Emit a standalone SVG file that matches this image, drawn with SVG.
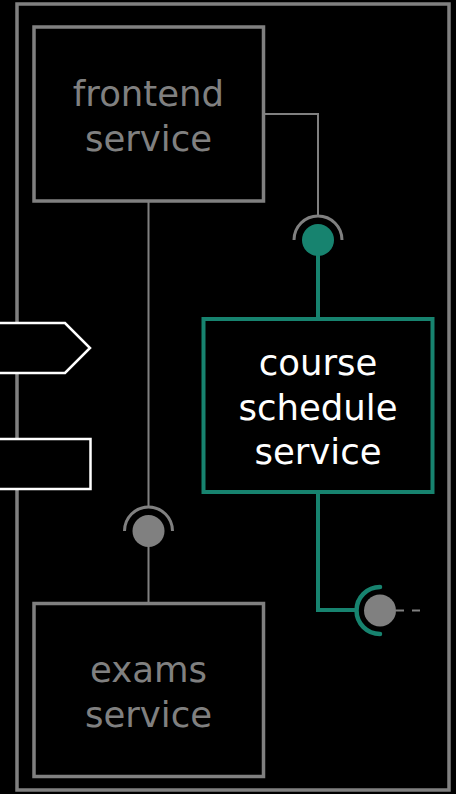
<svg xmlns="http://www.w3.org/2000/svg" width="456" height="794" viewBox="0 0 456 794">
  <style>
    .frame { fill: none; stroke: #808080; stroke-width: 3.5; }
    .box { fill: #000; stroke: #808080; stroke-width: 3.5; }
    .box-active { fill: #000; stroke: #17836f; stroke-width: 4; }
    .ext { fill: #000; stroke: #fff; stroke-width: 2.5; }
    .lbl { font-family: "DejaVu Sans", Verdana, sans-serif; font-size: 35.5px; text-anchor: middle; }
    .lbl-dim { fill: #808080; }
    .lbl-on { fill: #fff; }
    .wire { fill: none; stroke: #808080; stroke-width: 2; }
    .wire-on { fill: none; stroke: #17836f; stroke-width: 4; }
    .socket { fill: none; stroke: #808080; stroke-width: 3; }
    .socket-on { fill: none; stroke: #17836f; stroke-width: 4.5; stroke-linecap: round; }
    .ball { fill: #808080; }
    .ball-on { fill: #17836f; }
    .dash { fill: none; stroke: #808080; stroke-width: 2; stroke-dasharray: 8 8; }
  </style>
  <rect width="456" height="794" fill="#000"/>

  <!-- system boundary -->
  <rect id="boundary" class="frame" x="17" y="4" width="432" height="786"/>

  <!-- external elements entering from the left edge -->
  <g id="ext-interface">
    <polygon class="ext" points="-10,323 65,323 90,348 65,373 -10,373"/>
  </g>
  <g id="ext-component">
    <rect class="ext" x="-10" y="439" width="100.5" height="50"/>
  </g>

  <!-- connectors -->
  <g id="connectors">
    <!-- frontend -> course schedule (required interface) -->
    <polyline class="wire" points="264,114 318,114 318,216"/>
    <path class="socket" d="M294,240 A24,24 0 0 1 342,240"/>
    <line class="wire-on" x1="318" y1="240" x2="318" y2="319"/>
    <circle class="ball-on" cx="318" cy="240" r="16"/>

    <!-- frontend -> exams -->
    <line class="wire" x1="148.5" y1="201" x2="148.5" y2="507"/>
    <path class="socket" d="M124.5,531 A24,24 0 0 1 172.5,531"/>
    <line class="wire" x1="148.5" y1="531" x2="148.5" y2="603"/>
    <circle class="ball" cx="148.5" cy="531" r="16"/>

    <!-- course schedule -> outside (required interface) -->
    <polyline class="wire-on" points="318,492 318,610 356,610"/>
    <path class="socket-on" d="M380,587 A23.5,23.5 0 0 0 380,634"/>
    <circle class="ball" cx="380" cy="610.5" r="16"/>
    <line class="dash" x1="396" y1="610.5" x2="424" y2="610.5"/>
  </g>

  <g id="frontend-service">
    <rect class="box" x="34" y="27" width="229.5" height="174"/>
    <text class="lbl lbl-dim" x="148.5" y="106">frontend</text>
    <text class="lbl lbl-dim" x="148.5" y="151">service</text>
  </g>

  <g id="course-schedule-service">
    <rect class="box-active" x="203.5" y="319" width="229" height="173"/>
    <text class="lbl lbl-on" x="318" y="375">course</text>
    <text class="lbl lbl-on" x="318" y="420">schedule</text>
    <text class="lbl lbl-on" x="318" y="464">service</text>
  </g>

  <g id="exams-service">
    <rect class="box" x="34" y="603.5" width="229.5" height="173"/>
    <text class="lbl lbl-dim" x="148.5" y="682">exams</text>
    <text class="lbl lbl-dim" x="148.5" y="727">service</text>
  </g>
</svg>
